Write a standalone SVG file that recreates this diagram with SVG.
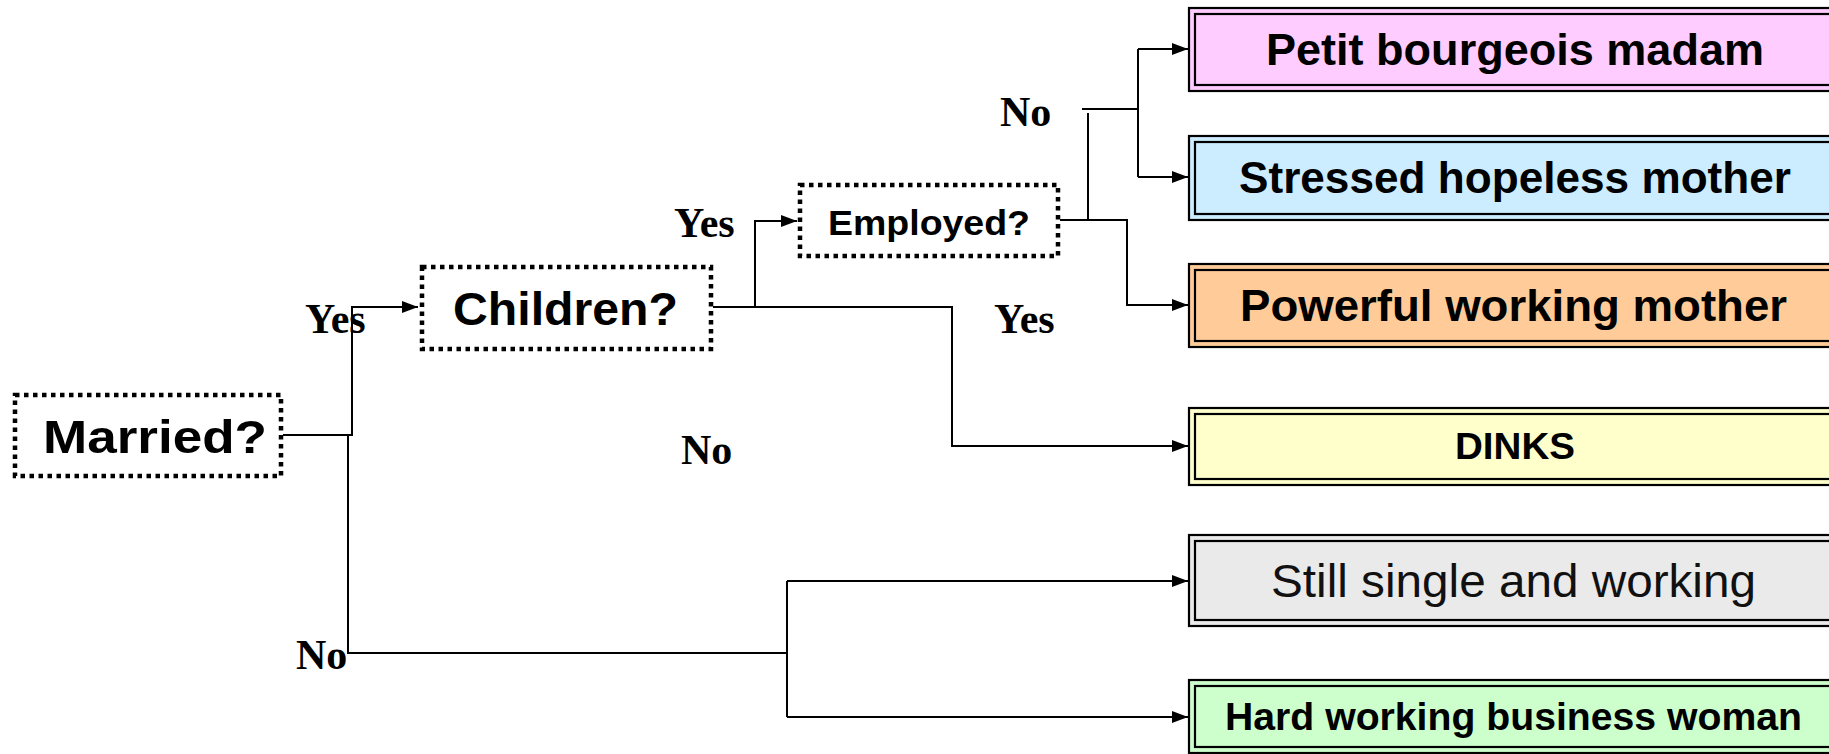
<svg xmlns="http://www.w3.org/2000/svg" width="1829" height="754" viewBox="0 0 1829 754">
  <style>
    .q { fill: #ffffff; stroke: #000; stroke-width: 4.5; stroke-dasharray: 4.5 4.5; }
    .qt { font-family: "Liberation Sans", Arial, sans-serif; font-weight: bold; fill: #000; }
    .lbl { font-family: "Liberation Serif", "Times New Roman", serif; font-weight: bold; font-size: 42px; fill: #000; }
    .outer { stroke: #000; stroke-width: 2.2; }
    .inner { fill: none; stroke: #000; stroke-width: 2.2; }
    .rt { font-family: "Liberation Sans", Arial, sans-serif; font-weight: bold; fill: #000; }
    .rn { font-family: "Liberation Sans", Arial, sans-serif; font-weight: normal; fill: #111; }
    .wire { fill: none; stroke: #000; stroke-width: 2; }
  </style>
  <defs>
    <marker id="arrow" markerUnits="userSpaceOnUse" markerWidth="16" markerHeight="12" refX="16" refY="6" orient="auto">
      <path d="M0,0 L16,6 L0,12 Z" fill="#000"/>
    </marker>
  </defs>
  <rect width="1829" height="754" fill="#ffffff"/>

  <!-- connectors -->
  <g id="connectors">
    <path class="wire" d="M283,435 H352 V307 H418" marker-end="url(#arrow)"/>
    <path class="wire" d="M348,435 V653 H787"/>
    <path class="wire" d="M787,581 V717"/>
    <path class="wire" d="M787,581 H1188" marker-end="url(#arrow)"/>
    <path class="wire" d="M787,717 H1188" marker-end="url(#arrow)"/>
    <path class="wire" d="M713,307 H755 V221 H797" marker-end="url(#arrow)"/>
    <path class="wire" d="M755,307 H952 V446 H1188" marker-end="url(#arrow)"/>
    <path class="wire" d="M1060,220 H1127 V305 H1188" marker-end="url(#arrow)"/>
    <path class="wire" d="M1088,220 V113"/>
    <path class="wire" d="M1082,109 H1138"/>
    <path class="wire" d="M1138,49 V177"/>
    <path class="wire" d="M1138,49 H1188" marker-end="url(#arrow)"/>
    <path class="wire" d="M1138,177 H1188" marker-end="url(#arrow)"/>
  </g>

  <!-- branch labels -->
  <g id="labels">
    <text class="lbl" x="305" y="333">Yes</text>
    <text class="lbl" x="674" y="237">Yes</text>
    <text class="lbl" x="1000" y="126">No</text>
    <text class="lbl" x="994" y="333">Yes</text>
    <text class="lbl" x="681" y="464">No</text>
    <text class="lbl" x="296" y="669">No</text>
  </g>

  <!-- decision nodes -->
  <g id="married">
    <rect class="q" x="15" y="395" width="266" height="81"/>
    <text class="qt" x="43" y="453" font-size="47" textLength="224" lengthAdjust="spacingAndGlyphs">Married?</text>
  </g>
  <g id="children">
    <rect class="q" x="422" y="267" width="289" height="82"/>
    <text class="qt" x="453" y="325" font-size="46" textLength="225" lengthAdjust="spacingAndGlyphs">Children?</text>
  </g>
  <g id="employed">
    <rect class="q" x="800" y="185" width="258" height="71"/>
    <text class="qt" x="828" y="235" font-size="35" textLength="202" lengthAdjust="spacingAndGlyphs">Employed?</text>
  </g>

  <!-- outcome nodes -->
  <g id="petit-bourgeois">
    <rect class="outer" x="1189" y="8" width="660" height="83" fill="#FFCCFF"/>
    <rect class="inner" x="1195" y="14" width="660" height="71"/>
    <text class="rt" x="1266" y="65" font-size="44" textLength="498" lengthAdjust="spacingAndGlyphs">Petit bourgeois madam</text>
  </g>
  <g id="stressed-mother">
    <rect class="outer" x="1189" y="136" width="660" height="84" fill="#CCECFF"/>
    <rect class="inner" x="1195" y="142" width="660" height="72"/>
    <text class="rt" x="1239" y="193" font-size="44" textLength="552" lengthAdjust="spacingAndGlyphs">Stressed hopeless mother</text>
  </g>
  <g id="powerful-mother">
    <rect class="outer" x="1189" y="264" width="660" height="83" fill="#FFCC99"/>
    <rect class="inner" x="1195" y="270" width="660" height="71"/>
    <text class="rt" x="1240" y="321" font-size="44" textLength="547" lengthAdjust="spacingAndGlyphs">Powerful working mother</text>
  </g>
  <g id="dinks">
    <rect class="outer" x="1189" y="408" width="660" height="77" fill="#FFFFCC"/>
    <rect class="inner" x="1195" y="414" width="660" height="65"/>
    <text class="rt" x="1455" y="459" font-size="36" textLength="120" lengthAdjust="spacingAndGlyphs">DINKS</text>
  </g>
  <g id="single-working">
    <rect class="outer" x="1189" y="535" width="660" height="91" fill="#EAEAEA"/>
    <rect class="inner" x="1195" y="541" width="660" height="79"/>
    <text class="rn" x="1271" y="597" font-size="46" textLength="485" lengthAdjust="spacingAndGlyphs">Still single and working</text>
  </g>
  <g id="business-woman">
    <rect class="outer" x="1189" y="680" width="660" height="73" fill="#CCFFCC"/>
    <rect class="inner" x="1195" y="686" width="660" height="61"/>
    <text class="rt" x="1225" y="730" font-size="38" textLength="577" lengthAdjust="spacingAndGlyphs">Hard working business woman</text>
  </g>
</svg>
